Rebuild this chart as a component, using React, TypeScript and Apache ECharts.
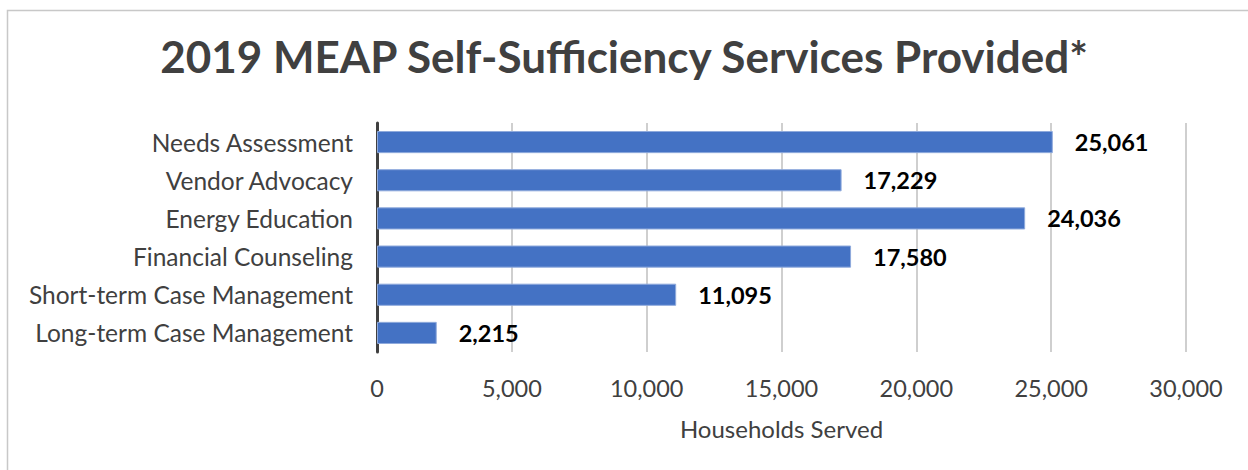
import React, { useEffect, useRef } from "react";
import * as echarts from "echarts";

const categories = [
  "Needs Assessment",
  "Vendor Advocacy",
  "Energy Education",
  "Financial Counseling",
  "Short-term Case Management",
  "Long-term Case Management",
];
const values = [25061, 17229, 24036, 17580, 11095, 2215];
const title = "2019 MEAP Self-Sufficiency Services Provided*";
const axisName = "Households Served";

const FONT = "Lato, 'Open Sans', sans-serif";

export default function App() {
  const ref = useRef<HTMLDivElement>(null);
  useEffect(() => {
    if (!ref.current) return;
    const chart = echarts.init(ref.current, undefined, { renderer: "svg" });
    chart.setOption({
      animation: false,
      backgroundColor: "#ffffff",
      title: {
        text: title,
        left: "center",
        top: 29,
        textStyle: {
          fontFamily: FONT,
          fontSize: 44,
          fontWeight: "bold",
          color: "#404040",
        },
      },
      graphic: [
        {
          type: "rect",
          shape: { x: 7.5, y: 10.5, width: 1300, height: 600 },
          style: { fill: "none", stroke: "#c8c8c8", lineWidth: 1.5 },
          silent: true,
        },
      ],
      grid: { left: 377, right: 62, top: 123, bottom: 118 },
      xAxis: {
        type: "value",
        min: 0,
        max: 30000,
        interval: 5000,
        name: axisName,
        nameLocation: "middle",
        nameGap: 64,
        nameTextStyle: { fontFamily: FONT, fontSize: 24, color: "#404040" },
        axisLine: { show: false },
        axisTick: { show: false },
        axisLabel: {
          fontFamily: FONT,
          fontSize: 23.5,
          color: "#404040",
          margin: 24,
          formatter: (v: number) => v.toLocaleString("en-US"),
        },
        splitLine: { show: true, lineStyle: { color: "#bfbfbf", width: 1.5 } },
      },
      yAxis: {
        type: "category",
        data: categories,
        inverse: true,
        axisLine: { show: true, lineStyle: { color: "#404040", width: 3 } },
        axisTick: { show: false },
        axisLabel: {
          fontFamily: FONT,
          fontSize: 24.5,
          color: "#404040",
          margin: 24,
        },
      },
      series: [
        {
          type: "bar",
          data: values,
          barWidth: "58%",
          itemStyle: {
            color: "#4472C4",
            borderColor: "#8FAADC",
            borderWidth: 1,
          },
          label: {
            show: true,
            position: "right",
            distance: 22,
            fontFamily: FONT,
            fontSize: 23.5,
            fontWeight: "bold",
            color: "#000000",
            formatter: (p: any) => Number(p.value).toLocaleString("en-US"),
          },
        },
      ],
    });
    return () => chart.dispose();
  }, []);
  return (
    <div
      ref={ref}
      style={{ position: "fixed", left: 0, top: 0, width: 1248, height: 470 }}
    />
  );
}
